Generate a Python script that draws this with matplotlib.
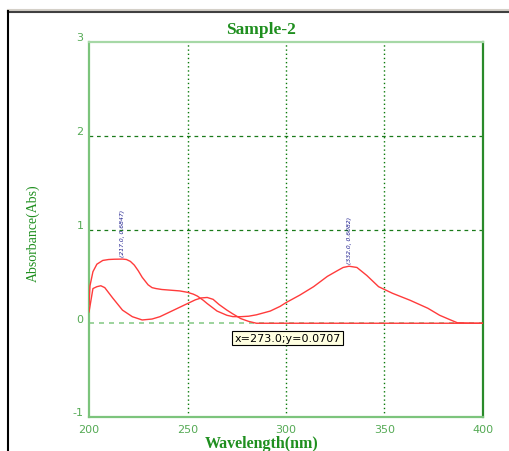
import matplotlib
matplotlib.use('Agg')
from matplotlib import pyplot as plt
from matplotlib.lines import Line2D
import matplotlib.transforms as mtransforms

plt.rcParams['axes.unicode_minus'] = False

# spectrum 1 (peaks labelled at 217 and 332 nm)
wl_a = [200, 200.5, 202, 204, 207, 210, 213, 216, 217, 219, 221, 223, 225, 227, 230, 232, 234,
        237, 240, 246, 250, 253, 255, 258, 260, 265, 270, 273, 277, 281, 285, 292, 297, 300, 307, 314,
        321, 326, 329, 332, 336, 341, 347, 354, 363, 372, 378, 383, 387, 395, 400]
abs_a = [0.2, 0.4, 0.55, 0.63, 0.67, 0.68, 0.683, 0.684, 0.6847, 0.68, 0.66, 0.62, 0.56, 0.49, 0.41, 0.38, 0.37,
         0.36, 0.355, 0.345, 0.33, 0.31, 0.29, 0.245, 0.21, 0.13, 0.085, 0.0707, 0.07, 0.075, 0.09, 0.13, 0.18, 0.22,
         0.30, 0.39, 0.50, 0.56, 0.595, 0.6082, 0.595, 0.51, 0.39, 0.32, 0.245, 0.16, 0.085, 0.04, 0.005, 0.0, 0.0]

# spectrum 2
wl_b = [200, 202, 204, 206, 208, 212, 217, 222, 227, 232, 236, 240, 245, 250, 254, 257,
        260, 263, 266, 270, 273, 277, 281, 285, 400]
abs_b = [0.12, 0.37, 0.39, 0.40, 0.38, 0.27, 0.14, 0.07, 0.035, 0.045, 0.07, 0.11, 0.16, 0.21, 0.25, 0.27,
         0.275, 0.255, 0.20, 0.14, 0.10, 0.05, 0.02, 0.0, 0.0]

peaks = [(217.0, 0.6847), (332.0, 0.6082)]
cursor = (273.0, 0.0707)

x_ticks = [200, 250, 300, 350, 400]
y_ticks = [-1, 0, 1, 2, 3]

W, H = 510, 452
fig = plt.figure(figsize=(W / 100, H / 100), dpi=100)
fig.patch.set_facecolor('white')
ax = fig.add_axes([89 / W, 1 - 418 / H, (483 - 89) / W, (418 - 43) / H])

light_green = '#7cc47c'
dark_green = '#2a8a2a'
text_green = '#1f8f1f'

# grid
for x in [250, 300, 350]:
    ax.axvline(x, color='#0a7a0a', lw=1.0, ls=(0, (1, 2)), zorder=1)
for y in [1, 2]:
    ax.axhline(y, color='#1a7a1a', lw=0.9, ls=(0, (3, 3)), zorder=1)
ax.axhline(0, color='#8ccc8c', lw=1.2, ls=(0, (3, 3)), zorder=1)

ax.plot(wl_a, abs_a, color='#ff3b3b', lw=1.0, zorder=3)
ax.plot(wl_b, abs_b, color='#ff3b3b', lw=1.0, zorder=3)

for px, py in peaks:
    ax.text(px, py + 0.03, f'({px:.1f}, {py:.4f})', rotation=90, ha='center', va='bottom',
            fontsize=4.3, style='italic', color='#1a1a8c',
            family=['Liberation Sans Narrow', 'DejaVu Sans'], zorder=4)

ax.text(cursor[0] + 0.8, -0.16, f'x={cursor[0]:.1f};y={cursor[1]:.4f}', ha='left', va='center',
        fontsize=8, color='black', zorder=5,
        bbox=dict(boxstyle='square,pad=0.2', facecolor='#ffffe1', edgecolor='black', lw=0.8))

ax.set_xlim(200, 400)
ax.set_ylim(-1, 3)
ax.set_xticks(x_ticks)
ax.set_yticks(y_ticks)
ax.tick_params(length=0, labelsize=8, labelcolor='#55aa55', pad=4)
ax.tick_params(axis='x', pad=5)
off = mtransforms.ScaledTranslation(0, 4 / 72, fig.dpi_scale_trans)
for lab in ax.get_yticklabels():
    lab.set_transform(lab.get_transform() + off)

ax.spines['left'].set_color(light_green)
ax.spines['bottom'].set_color(light_green)
ax.spines['top'].set_color('#a6d8a6')
ax.spines['right'].set_color(dark_green)
for s in ax.spines.values():
    s.set_linewidth(1.6)

fig.text(261 / W, 1 - 30 / H, 'Sample-2', ha='center', va='center', fontsize=12.5,
         fontweight='bold', family='Liberation Serif', color=text_green)
fig.text(262 / W, 1 - 444 / H, 'Wavelength(nm)', ha='center', va='center', fontsize=11.5,
         fontweight='bold', family='Liberation Serif', color=text_green)
fig.text(33 / W, 1 - 233 / H, 'Absorbance(Abs)', ha='center', va='center', rotation=90,
         fontsize=10, family='Liberation Serif', color=text_green)

# window frame
fig.add_artist(Line2D([8 / W, 1], [1 - 10.5 / H, 1 - 10.5 / H], transform=fig.transFigure,
                      color='#d4d0c8', lw=1.5))
fig.add_artist(Line2D([8 / W, 1], [1 - 12.5 / H, 1 - 12.5 / H], transform=fig.transFigure,
                      color='#404040', lw=1.5))
fig.add_artist(Line2D([8.5 / W, 8.5 / W], [0, 1 - 12 / H], transform=fig.transFigure,
                      color='black', lw=1.5))

fig.savefig('out.png', dpi=100)
